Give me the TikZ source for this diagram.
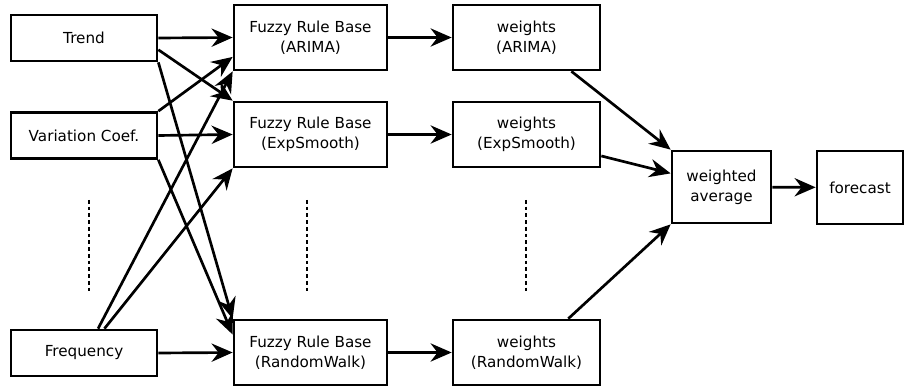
\documentclass[tikz,border=0pt]{standalone}
\usepackage{fontspec}
\setmainfont{DejaVu Sans}
\usetikzlibrary{arrows.meta}
\tikzset{
  box/.style={draw,line width=1.9pt,align=center,inner sep=0pt},
  inbox/.style={box,minimum width=3.65cm,minimum height=1.15cm},
  rulebox/.style={box,minimum width=3.825cm,minimum height=1.625cm},
  wbox/.style={box,minimum width=3.675cm,minimum height=1.625cm},
  conn/.style={line width=1.9pt,-{Stealth[length=15pt,width=13pt,inset=5pt]}},
  dots/.style={line width=2.1pt,dash pattern=on 2.6pt off 2.2pt}
}
\begin{document}
\begin{tikzpicture}[x=0.025cm,y=-0.025cm,font=\fontsize{10.8}{14.2}\selectfont]
\useasboundingbox (0,0) rectangle (904,386);
% inputs
\node[inbox] (trend) at (84,38) {Trend};
\node[inbox] (varcoef) at (84,135.5) {Variation Coef.};
\node[inbox] (freq) at (84,353) {Frequency};
% rule bases
\node[rulebox] (frbA) at (310.5,37.5) {Fuzzy Rule Base\\(ARIMA)};
\node[rulebox] (frbE) at (310.5,134.5) {Fuzzy Rule Base\\(ExpSmooth)};
\node[rulebox] (frbR) at (310.5,352.5) {Fuzzy Rule Base\\(RandomWalk)};
% weights
\node[wbox] (wA) at (526.5,37.5) {weights\\(ARIMA)};
\node[wbox] (wE) at (526.5,134.5) {weights\\(ExpSmooth)};
\node[wbox] (wR) at (526.5,352.5) {weights\\(RandomWalk)};
% output
\node[box,minimum width=2.475cm,minimum height=1.8cm] (avg) at (721.5,187) {weighted\\average};
\node[box,minimum width=2.15cm,minimum height=1.825cm] (fc) at (860,187.5) {forecast};
% dots
\path[draw,dots] (89,200)--(89,291);
\path[draw,dots] (307,200)--(307,291);
\path[draw,dots] (526,200)--(526,291);
% inputs to rule bases
\path[draw,conn] (trend.east)--(frbA.west);
\path[draw,conn] (trend.-9)--(frbE.north west);
\path[draw,conn] (trend.south east)--(frbR.north west);
\path[draw,conn] (varcoef.north east)--(frbA.194);
\path[draw,conn] (varcoef.east)--(frbE.west);
\path[draw,conn] (varcoef.south east)--(frbR.167);
\path[draw,conn] (freq.60)--(frbA.south west);
\path[draw,conn] (freq.50)--(frbE.south west);
\path[draw,conn] (freq.east)--(frbR.west);
% rule bases to weights
\path[draw,conn] (frbA)--(wA);
\path[draw,conn] (frbE)--(wE);
\path[draw,conn] (frbR)--(wR);
% weights to average
\path[draw,conn] (wA.-37)--(avg.north west);
\path[draw,conn] (wE.-16)--(avg.165);
\path[draw,conn] (wR.39)--(avg.south west);
\path[draw,conn] (avg)--(fc);
\end{tikzpicture}
\end{document}
